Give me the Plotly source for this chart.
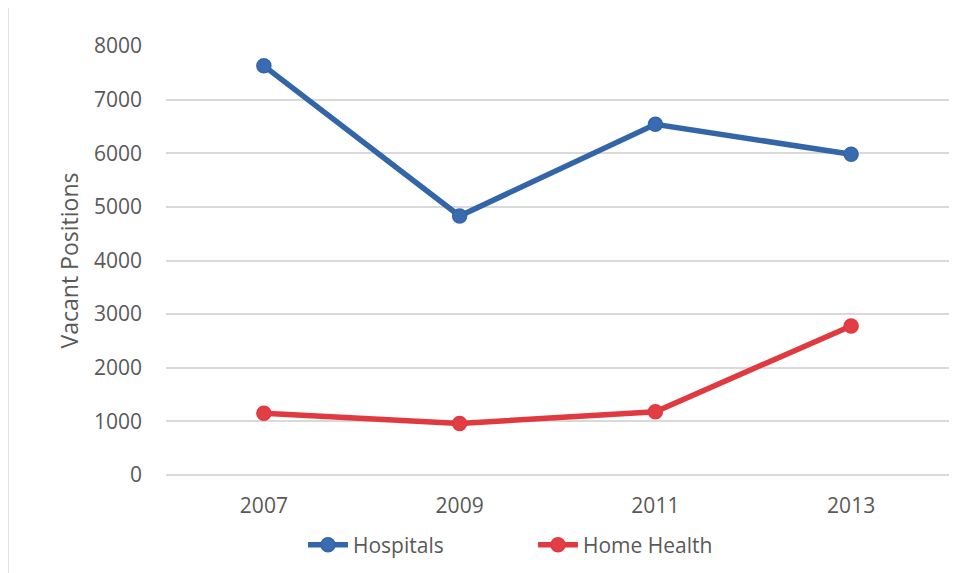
import plotly.graph_objects as go

years = ["2007", "2009", "2011", "2013"]
hospitals = [7630, 4830, 6540, 5980]
home_health = [1150, 960, 1180, 2780]
y_ticks = [0, 1000, 2000, 3000, 4000, 5000, 6000, 7000, 8000]

BLUE = "#3366A8"
RED = "#E0393F"
TEXT = "#595959"
FONT = "Open Sans"

OFF = 8  # page body margin
W, H = 977 - OFF, 573 - OFF
ML = 166 - OFF
MT = 46 - OFF
MR = W - (949 - OFF)
MB = H - (475 - OFF)
PW = W - ML - MR
PH = H - MT - MB


def px_x(px):
    return (px - OFF - ML) / PW


def px_y(py):
    return (H - MB - (py - OFF)) / PH


fig = go.Figure()
fig.add_trace(go.Scatter(
    x=years, y=hospitals, name="Hospitals", mode="lines+markers",
    line=dict(color=BLUE, width=5.5),
    marker=dict(size=14, color="#3A6BB0", line=dict(color=BLUE, width=1.5)),
))
fig.add_trace(go.Scatter(
    x=years, y=home_health, name="Home Health", mode="lines+markers",
    line=dict(color=RED, width=5.5),
    marker=dict(size=14, color="#E23E45", line=dict(color=RED, width=1.5)),
))

fig.update_layout(
    width=W, height=H,
    margin=dict(l=ML, r=MR, t=MT, b=MB, autoexpand=False),
    paper_bgcolor="white", plot_bgcolor="white",
    font=dict(family=FONT, size=21, color=TEXT),
    showlegend=True,
    legend=dict(orientation="h", x=px_x(303), xanchor="left", y=px_y(545), yanchor="middle",
                font=dict(size=21, color=TEXT), entrywidth=175, entrywidthmode="pixels",
                itemwidth=40),
    xaxis=dict(type="category", range=[-0.5, 3.5], showgrid=False, zeroline=False,
               showline=False, ticks="", ticklabelstandoff=16, automargin=False,
               tickfont=dict(size=21, color=TEXT)),
    yaxis=dict(range=[0, 8000], tickvals=y_ticks, showgrid=True, gridcolor="#D9D9D9",
               gridwidth=1.5, zeroline=True, zerolinecolor="#D9D9D9", zerolinewidth=1.5,
               showline=False, ticks="", ticklabelstandoff=23, automargin=False,
               tickfont=dict(size=21, color=TEXT),
               title=dict(text="Vacant Positions", font=dict(size=23, color=TEXT), standoff=8)),
    shapes=[dict(type="rect", xref="paper", yref="paper",
                 x0=px_x(8), x1=px_x(990), y0=px_y(590), y1=px_y(6),
                 line=dict(color="#D9D9D9", width=1.5), layer="below")],
)

fig.write_html("out.html")
